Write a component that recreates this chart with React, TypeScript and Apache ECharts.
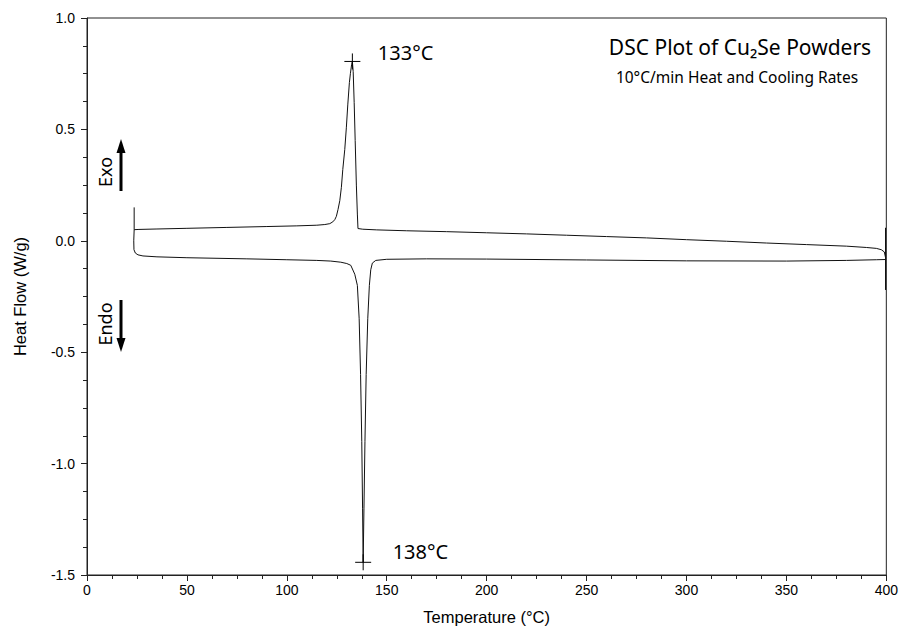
import React, { useEffect, useRef } from "react";
import * as echarts from "echarts";

// Heating trace (lower curve, endothermic dip)
const heatingTemp = [
  23.6, 23.4, 23.5, 24.2, 25.5, 28, 35, 50, 80, 100, 115, 122, 127, 130, 132, 134,
  135.3, 136.2, 136.9, 137.5, 137.9, 138.2, 138.6, 139.1, 139.7, 140.5, 141.3, 142,
  142.8, 144.5, 150, 170, 200, 250, 300, 350, 380, 395, 399.6,
];
const heatingFlow = [
  0.05, 0.0, -0.04, -0.055, -0.063, -0.068, -0.072, -0.076, -0.081, -0.085, -0.088,
  -0.091, -0.096, -0.102, -0.11, -0.15, -0.2, -0.35, -0.6, -0.9, -1.2, -1.443, -1.2,
  -0.9, -0.6, -0.35, -0.2, -0.13, -0.1, -0.088, -0.083, -0.081, -0.082, -0.086, -0.09,
  -0.091, -0.088, -0.085, -0.084,
];

// Isothermal hold at 400 °C (vertical spike)
const holdTemp = [399.6, 399.6, 399.6, 399.6];
const holdFlow = [-0.084, 0.058, -0.22, -0.075];

// Cooling trace (upper curve, exothermic peak)
const coolingTemp = [
  399.6, 399.0, 397.5, 395, 390, 380, 360, 340, 320, 300, 280, 260, 240, 220, 200, 180,
  160, 145, 138, 135.6, 135.3, 134.8, 134.2, 133.7, 133.2, 132.8, 132.4, 131.8, 131.3,
  130.5, 129.8, 129, 128, 127.3, 126.5, 125.6, 124.8, 124, 123, 121.5, 119, 115, 105,
  90, 70, 50, 35, 26, 23.6, 23.6,
];
const coolingFlow = [
  -0.075, -0.05, -0.04, -0.034, -0.03, -0.024, -0.017, -0.01, -0.002, 0.005, 0.013,
  0.019, 0.025, 0.031, 0.036, 0.041, 0.045, 0.049, 0.052, 0.055, 0.12, 0.25, 0.45,
  0.62, 0.76, 0.805, 0.79, 0.75, 0.71, 0.61, 0.51, 0.41, 0.32, 0.24, 0.18, 0.14, 0.11,
  0.095, 0.085, 0.077, 0.073, 0.07, 0.067, 0.064, 0.06, 0.056, 0.053, 0.051, 0.05, 0.15,
];

// Peak markers
const peakTemp = [132.8, 138.2];
const peakFlow = [0.805, -1.443];
const peakLabels = ["133°C", "138°C"];

const xTicks = { min: 0, max: 400, interval: 50 };
const yTicks = { min: -1.5, max: 1.0, interval: 0.5 };

const titleText = "DSC Plot of Cu₂Se Powders";
const subtitleText = "10°C/min Heat and Cooling Rates";

const pairs = (t: number[], h: number[]) => t.map((x, i) => [x, h[i]]);

export default function App() {
  const ref = useRef<HTMLDivElement>(null);
  useEffect(() => {
    const chart = echarts.init(ref.current!, null, { renderer: "svg" });
    const axisColor = "#222";
    const lineStyle = { color: "#111", width: 1 };
    chart.setOption({
      animation: false,
      backgroundColor: "#fff",
      grid: {
        left: 87,
        right: 13,
        top: 18,
        bottom: 54,
        show: true,
        borderColor: axisColor,
        borderWidth: 1,
        backgroundColor: "transparent",
      },
      xAxis: {
        type: "value",
        min: xTicks.min,
        max: xTicks.max,
        interval: xTicks.interval,
        axisLine: { show: true, onZero: false, lineStyle: { color: axisColor, width: 1 } },
        axisTick: { show: true, length: 6, lineStyle: { color: axisColor, width: 1 } },
        minorTick: { show: true, splitNumber: 4, length: 4, lineStyle: { color: axisColor, width: 1 } },
        splitLine: { show: false },
        axisLabel: {
          fontFamily: "Liberation Sans",
          fontSize: 14,
          color: "#000",
          margin: 8,
          showMinLabel: true,
          showMaxLabel: true,
        },
        name: "Temperature (°C)",
        nameLocation: "middle",
        nameGap: 33,
        nameTextStyle: { fontFamily: "Liberation Sans", fontSize: 16.5, color: "#000" },
      },
      yAxis: {
        type: "value",
        min: yTicks.min,
        max: yTicks.max,
        interval: yTicks.interval,
        axisLine: { show: true, onZero: false, lineStyle: { color: axisColor, width: 1 } },
        axisTick: { show: true, length: 6, lineStyle: { color: axisColor, width: 1 } },
        minorTick: { show: true, splitNumber: 4, length: 4, lineStyle: { color: axisColor, width: 1 } },
        splitLine: { show: false },
        axisLabel: {
          fontFamily: "Liberation Sans",
          fontSize: 14,
          color: "#000",
          margin: 12,
          formatter: (v: number) => v.toFixed(1),
          showMinLabel: true,
          showMaxLabel: true,
        },
        name: "Heat Flow (W/g)",
        nameLocation: "middle",
        nameGap: 59,
        nameTextStyle: { fontFamily: "Liberation Sans", fontSize: 16.5, color: "#000" },
      },
      series: [
        {
          name: "Heating",
          type: "line",
          data: pairs(heatingTemp, heatingFlow),
          showSymbol: false,
          symbol: "none",
          lineStyle,
        },
        {
          name: "Hold",
          type: "line",
          data: pairs(holdTemp, holdFlow),
          showSymbol: false,
          symbol: "none",
          lineStyle,
        },
        {
          name: "Cooling",
          type: "line",
          data: pairs(coolingTemp, coolingFlow),
          showSymbol: false,
          symbol: "none",
          lineStyle,
        },
        {
          name: "Peaks",
          type: "scatter",
          symbol: "path://M0,8L16,8M8,0L8,16",
          symbolSize: 16,
          itemStyle: { color: "none", borderColor: "#000", borderWidth: 1, opacity: 1 },
          data: peakTemp.map((t, i) => ({
            value: [t, peakFlow[i]],
            label: {
              show: true,
              position: "right",
              distance: i === 0 ? 15 : 19,
              offset: i === 0 ? [0, -9] : [0, -11],
              formatter: peakLabels[i],
              fontFamily: "Noto Sans",
              fontSize: 20,
              color: "#000",
              opacity: 1,
            },
          })),
          z: 5,
        },
      ],
      graphic: [
        {
          type: "text",
          x: 740,
          y: 47,
          style: {
            text: titleText,
            fontFamily: "Noto Sans",
            fontSize: 21,
            fill: "#000",
            align: "center",
            verticalAlign: "middle",
          },
        },
        {
          type: "text",
          x: 737,
          y: 77,
          style: {
            text: subtitleText,
            fontFamily: "Noto Sans",
            fontSize: 15.5,
            fill: "#000",
            align: "center",
            verticalAlign: "middle",
          },
        },
        {
          type: "text",
          x: 105,
          y: 172,
          rotation: Math.PI / 2,
          style: {
            text: "Exo",
            fontFamily: "Noto Sans",
            fontSize: 18,
            fill: "#000",
            align: "center",
            verticalAlign: "middle",
          },
        },
        {
          type: "text",
          x: 105,
          y: 324,
          rotation: Math.PI / 2,
          style: {
            text: "Endo",
            fontFamily: "Noto Sans",
            fontSize: 18,
            fill: "#000",
            align: "center",
            verticalAlign: "middle",
          },
        },
        {
          type: "line",
          shape: { x1: 121, y1: 150, x2: 121, y2: 191 },
          style: { stroke: "#000", lineWidth: 3 },
        },
        {
          type: "polygon",
          shape: { points: [[121, 139], [116.5, 153], [125.5, 153]] },
          style: { fill: "#000" },
        },
        {
          type: "line",
          shape: { x1: 121, y1: 300, x2: 121, y2: 341 },
          style: { stroke: "#000", lineWidth: 3 },
        },
        {
          type: "polygon",
          shape: { points: [[121, 352], [116.5, 338], [125.5, 338]] },
          style: { fill: "#000" },
        },
      ],
    });
    return () => chart.dispose();
  }, []);
  return (
    <div
      ref={ref}
      style={{ width: 901, height: 630, position: "absolute", left: 0, top: 0 }}
    />
  );
}
